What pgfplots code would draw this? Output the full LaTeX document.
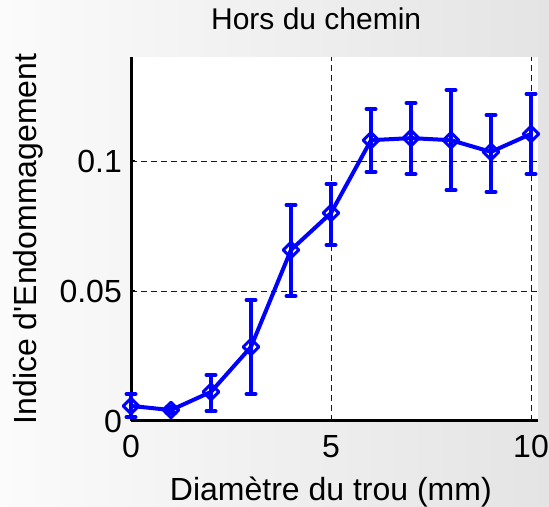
\documentclass[border=0pt]{standalone}
\usepackage{pgfplots}
\pgfplotsset{compat=1.18}
\usepackage{fontspec}
\setmainfont{Liberation Sans}
\definecolor{bgL}{RGB}{251,251,251}
\definecolor{bgR}{RGB}{228,228,228}
\definecolor{mblue}{RGB}{0,0,255}
\begin{document}
\begin{tikzpicture}[x=1bp,y=1bp]
\shade[left color=bgL,right color=bgR] (0,0) rectangle (549,507);
\useasboundingbox (0,0) rectangle (549,507);
\begin{axis}[
  at={(131bp,86bp)}, anchor=south west,
  scale only axis, width=407bp, height=364bp,
  xmin=0, xmax=10.175, ymin=0, ymax=0.14,
  axis background/.style={fill=white},
  axis x line*=bottom, axis y line*=left,
  axis line style={-, line width=3bp, black},
  xtick={0,5,10}, xticklabels={0,5,10},
  ytick={0,0.05,0.1}, yticklabels={0,0.05,0.1},
  tick align=inside, major tick length=4bp,
  tick style={black, line width=1bp},
  grid=major,
  major grid style={black!90, line width=0.9bp, dash pattern=on 6bp off 4bp},
  ticklabel style={font=\fontsize{32bp}{38bp}\selectfont, inner sep=0pt},
  xticklabel style={anchor=base, yshift=-37bp},
  yticklabel style={anchor=east, xshift=-9bp},
  title={Hors du chemin},
  title style={at={(axis description cs:0.455,1)}, anchor=base, yshift=22bp, inner sep=0pt, font=\fontsize{30bp}{36bp}\selectfont},
  xlabel={Diamètre du trou (mm)},
  xlabel style={at={(axis description cs:0.491,0)}, anchor=base, yshift=-79bp, inner sep=0pt, font=\fontsize{32bp}{38bp}\selectfont},
  ylabel={Indice d\textquotesingle Endommagement},
  ylabel style={at={(axis description cs:0,0.5)}, anchor=base, yshift=94bp, inner sep=0pt, font=\fontsize{32bp}{38bp}\selectfont},
  clip=false,
]
\addplot[mblue, line width=4bp, line join=round, line cap=round, mark=square, mark size=5.5bp,
  mark options={rotate=45, solid, line width=3bp},
  error bars/.cd, y dir=both, y explicit,
  error bar style={line width=4bp, mblue},
  error mark options={rotate=90, mblue, mark size=4.5bp, line width=4bp, line cap=round}]
table[x=x, y=y, y error plus=ep, y error minus=em] {
x y ep em
0 0.0058 0.0046 0.0043
1 0.0042 0.0010 0.0010
2 0.0112 0.0065 0.0074
3 0.0285 0.0180 0.0181
4 0.0658 0.0173 0.0177
5 0.0800 0.0112 0.0123
6 0.1080 0.0120 0.0122
7 0.1088 0.0135 0.0138
8 0.1080 0.0193 0.0192
9 0.1035 0.0142 0.0154
10 0.1104 0.0154 0.0154
};
\end{axis}
\end{tikzpicture}
\end{document}
